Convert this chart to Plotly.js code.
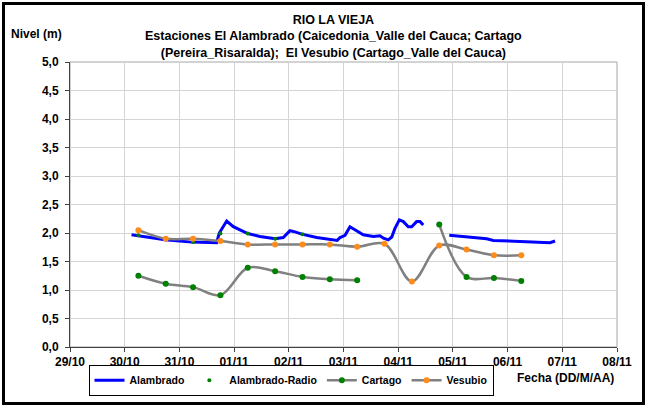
<!DOCTYPE html>
<html>
<head>
<meta charset="utf-8">
<script src="https://cdn.plot.ly/plotly-3.0.1.min.js"></script>
<style>
  html, body { margin: 0; padding: 0; background: #fff; }
  #wrap { position: relative; width: 648px; height: 408px; }
  #chart { position: absolute; left: 0; top: 0; width: 648px; height: 408px; }
  #frame { position: absolute; left: 2px; top: 2px; width: 637px; height: 397px; border: 3px solid #000; pointer-events: none; }
</style>
</head>
<body>
<div id="wrap"><div id="chart"></div><div id="frame"></div></div>
<script>
// ---- Data ----
const alambradoTime = [
  "2010-10-30 03:00","2010-10-30 17:40","2010-10-31 05:20","2010-10-31 16:20","2010-10-31 17:30",
  "2010-10-31 20:45","2010-10-31 23:40","2010-11-01 02:35","2010-11-01 06:00","2010-11-01 11:20",
  "2010-11-01 18:00","2010-11-01 21:35","2010-11-02 00:30","2010-11-02 02:45","2010-11-02 05:40",
  "2010-11-02 12:15","2010-11-02 19:30","2010-11-02 21:15","2010-11-02 22:30","2010-11-03 00:40",
  "2010-11-03 02:50","2010-11-03 05:00","2010-11-03 08:40","2010-11-03 13:05","2010-11-03 16:00",
  "2010-11-03 17:30","2010-11-03 19:40","2010-11-03 21:10","2010-11-03 22:35","2010-11-04 00:30",
  "2010-11-04 02:15","2010-11-04 04:25","2010-11-04 05:55","2010-11-04 08:05","2010-11-04 09:35",
  "2010-11-04 11:00","2010-11-04 16:00","2010-11-04 22:25","2010-11-05 07:30","2010-11-05 14:50",
  "2010-11-05 17:45","2010-11-06 05:25","2010-11-06 12:45","2010-11-06 18:35","2010-11-06 20:50"
];
const alambradoLevel = [
  1.97, 1.88, 1.84, 1.83, 2.00,
  2.21, 2.11, 2.06, 1.99, 1.94,
  1.90, 1.92, 2.04, 2.02, 1.98,
  1.92, 1.88, 1.87, 1.92, 1.96,
  2.11, 2.06, 1.97, 1.94, 1.95,
  1.91, 1.88, 1.93, 2.08, 2.23,
  2.20, 2.11, 2.11, 2.20, 2.20,
  2.14, null, 1.96, 1.93, 1.90,
  1.87, 1.85, 1.84, 1.83, 1.86
];

const radioTime = ["2010-10-30 06:00","2010-10-31 06:00","2010-10-31 18:00","2010-11-01 06:00","2010-11-01 18:00","2010-11-02 06:00"];
const radioLevel = [1.96, 1.84, 1.99, 1.99, 1.90, 1.98];

const stationTime = [
  "2010-10-30 06:00","2010-10-30 18:00","2010-10-31 06:00","2010-10-31 18:00",
  "2010-11-01 06:00","2010-11-01 18:00","2010-11-02 06:00","2010-11-02 18:00",
  "2010-11-03 06:00","2010-11-03 18:00","2010-11-04 06:00","2010-11-04 18:00",
  "2010-11-05 06:00","2010-11-05 18:00","2010-11-06 06:00"
];
const cartagoLevel = [1.25, 1.11, 1.05, 0.91, 1.39, 1.33, 1.23, 1.19, 1.17, null, null, 2.15, 1.23, 1.21, 1.16];
const vesubioLevel = [2.05, 1.90, 1.90, 1.86, 1.80, 1.80, 1.80, 1.80, 1.76, 1.81, 1.15, 1.78, 1.71, 1.61, 1.61];

const xRange = ["2010-10-29", "2010-11-08"];
const xTickVals = ["2010-10-29","2010-10-30","2010-10-31","2010-11-01","2010-11-02","2010-11-03",
                   "2010-11-04","2010-11-05","2010-11-06","2010-11-07","2010-11-08"];
const xTickText = ["29/10","30/10","31/10","01/11","02/11","03/11","04/11","05/11","06/11","07/11","08/11"];
const yTickVals = [0, 0.5, 1, 1.5, 2, 2.5, 3, 3.5, 4, 4.5, 5];
const yTickText = ["0,0","0,5","1,0","1,5","2,0","2,5","3,0","3,5","4,0","4,5","5,0"];
const titleLines = [
  "RIO LA VIEJA",
  "Estaciones El Alambrado (Caicedonia_Valle del Cauca; Cartago",
  "(Pereira_Risaralda);  El Vesubio (Cartago_Valle del Cauca)"
];
const yTitle = "Nivel (m)";
const xTitle = "Fecha (DD/M/AA)";
const names = ["Alambrado", "Alambrado-Radio", "Cartago", "Vesubio"];

// ---- Layout helpers (pixel -> paper) ----
const L = 70, R = 617, T = 62, B = 353, W = 648, H = 408;
const px = p => (p - L) / (R - L);
const py = p => (B - p) / (B - T);
const bold = s => "<b>" + s + "</b>";

const FONT = "Liberation Sans, Arial, sans-serif";

const traces = [
  { x: alambradoTime, y: alambradoLevel, name: bold(names[0]), type: "scatter", mode: "lines",
    connectgaps: false, line: { color: "#0000FF", width: 3 } },
  { x: radioTime, y: radioLevel, name: bold(names[1]), type: "scatter", mode: "markers",
    marker: { color: "#008000", size: 4 } },
  { x: stationTime, y: cartagoLevel, name: bold(names[2]), type: "scatter", mode: "lines+markers",
    connectgaps: false, line: { color: "#808080", width: 2.5, shape: "spline", smoothing: 1 },
    marker: { color: "#008000", size: 6 } },
  { x: stationTime, y: vesubioLevel, name: bold(names[3]), type: "scatter", mode: "lines+markers",
    line: { color: "#808080", width: 2.5, shape: "spline", smoothing: 1 },
    marker: { color: "#FF8C1A", size: 6 } }
];

const annotations = [
  { text: titleLines.map(bold).join("<br>"), x: px(333), y: py(36), size: 12.5 },
  { text: bold(yTitle), x: px(36), y: py(33), size: 12 },
  { text: bold(xTitle), x: px(565), y: py(385), size: 12 }
].map(a => ({ xref: "paper", yref: "paper", showarrow: false,
  xanchor: "center", yanchor: "middle", align: "center", text: a.text, x: a.x, y: a.y,
  font: { family: FONT, size: a.size, color: "#000" } }));

const tickFont = { family: FONT, size: 12, color: "#000" };

const layout = {
  width: W, height: H,
  margin: { l: L, r: W - R, t: T, b: H - B, pad: 0 },
  paper_bgcolor: "#fff", plot_bgcolor: "#fff",
  font: { family: FONT, size: 12, color: "#000" },
  showlegend: true,
  legend: {
    orientation: "h", x: px(291), xanchor: "center", y: py(387), yanchor: "middle",
    bordercolor: "#000", borderwidth: 1, bgcolor: "#fff",
    font: { family: FONT, size: 10.5, color: "#000" },
    itemwidth: 30, traceorder: "normal"
  },
  xaxis: {
    type: "date", range: xRange, tickmode: "array",
    tickvals: xTickVals, ticktext: xTickText.map(bold),
    showgrid: true, gridcolor: "#d4d4d4", gridwidth: 1,
    showline: true, linecolor: "#404040", linewidth: 1,
    ticks: "outside", ticklen: 4, tickcolor: "#404040",
    tickfont: tickFont,
    zeroline: false, fixedrange: true
  },
  yaxis: {
    range: [0, 5], tickmode: "array",
    tickvals: yTickVals, ticktext: yTickText.map(bold),
    showgrid: true, gridcolor: "#d4d4d4", gridwidth: 1,
    showline: true, linecolor: "#404040", linewidth: 1,
    ticks: "outside", ticklen: 4, tickcolor: "#404040",
    tickfont: tickFont,
    ticklabelstandoff: 4,
    zeroline: false, fixedrange: true
  },
  shapes: [
    { type: "rect", xref: "paper", yref: "paper", x0: 0, x1: 1, y0: 0, y1: 1,
      line: { color: "#a6a6a6", width: 1 }, fillcolor: "rgba(0,0,0,0)", layer: "below" }
  ],
  annotations: annotations
};

Plotly.newPlot("chart", traces, layout, { displayModeBar: false, staticPlot: true });
</script>
</body>
</html>
